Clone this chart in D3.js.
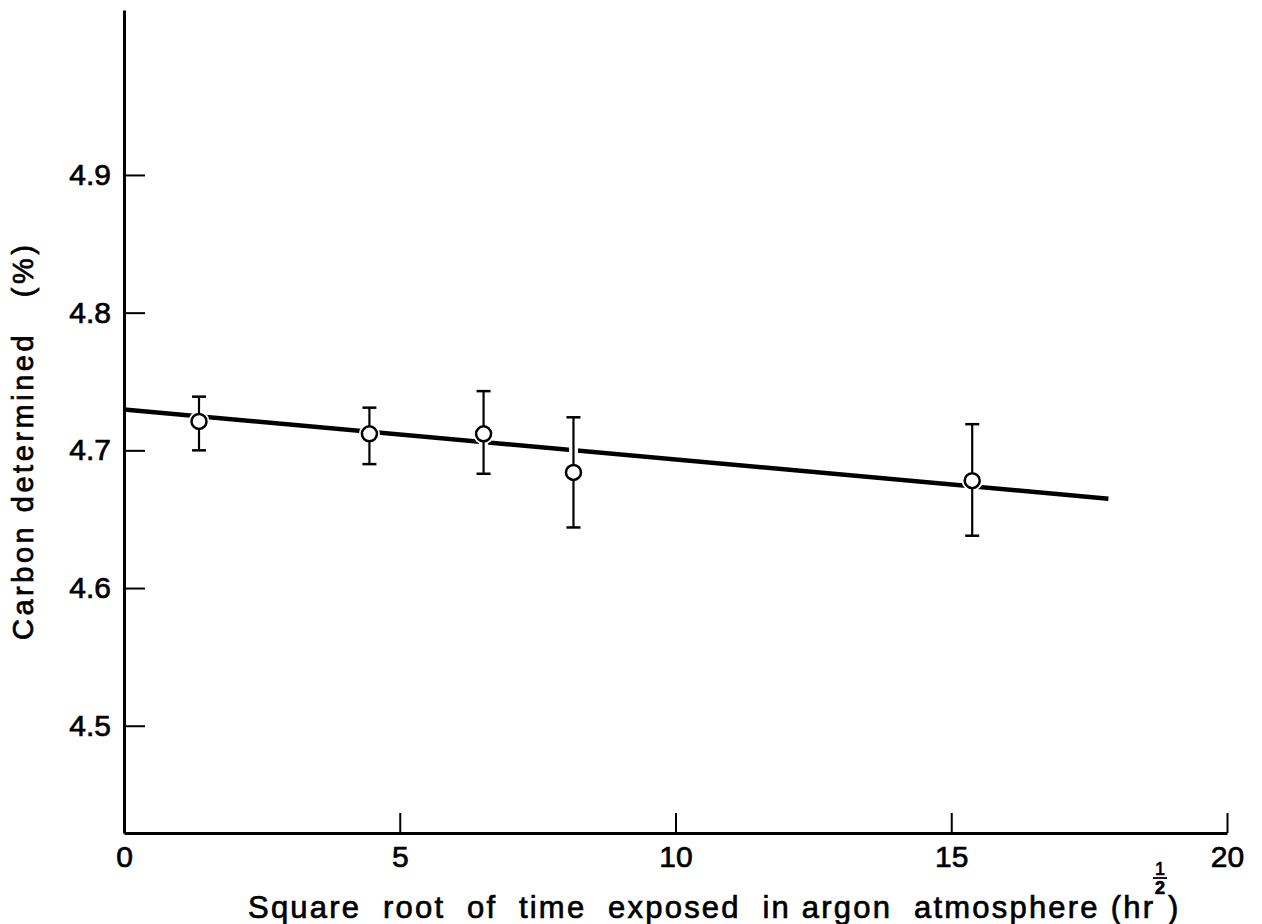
<!DOCTYPE html>
<html>
<head>
<meta charset="utf-8">
<script src="https://cdn.jsdelivr.net/npm/d3@7"></script>
<style>
    body { margin: 0; background: #fff; }
    text { font-family: 'Liberation Sans', Arial, sans-serif; fill: #000; stroke: #000; stroke-width: 0.7px; }
</style>
</head>
<body>
<div id="chartContainer"></div>
<script>
// measured points with error bars
const sqrtTime = [1.36, 4.45, 6.52, 8.15, 15.38];
const carbon = [4.721, 4.712, 4.712, 4.684, 4.678];
const carbonHigh = [4.739, 4.731, 4.743, 4.724, 4.719];
const carbonLow = [4.700, 4.690, 4.683, 4.644, 4.638];

// fitted line end points
const fitX = [0, 17.85];
const fitY = [4.7296, 4.6649];

const xTicks = [0, 5, 10, 15, 20];
const yTicks = [4.5, 4.6, 4.7, 4.8, 4.9];

const svgWidth = 1262;
const svgHeight = 924;
const margin = { top: 10, right: 35, bottom: 91, left: 124 };
const chartWidth = svgWidth - margin.left - margin.right;
const chartHeight = svgHeight - margin.top - margin.bottom;

const svg = d3.select('#chartContainer').append('svg')
    .attr('width', svgWidth).attr('height', svgHeight);

const xScale = d3.scaleLinear().domain([0, 20]).range([0, chartWidth]);
const yScale = d3.scaleLinear().domain([4.4221, 5.0198]).range([chartHeight, 0]);

const chart = svg.append('g').attr('transform', `translate(${margin.left}, ${margin.top})`);

// axes, ticks point inward
const xAxis = d3.axisBottom(xScale).tickValues(xTicks).tickSize(-20).tickSizeOuter(0).tickPadding(13)
    .tickFormat(d3.format('d'));
const gx = chart.append('g')
    .attr('transform', `translate(0, ${chartHeight})`)
    .call(xAxis);
gx.select('.domain').attr('stroke-width', 3);
gx.selectAll('.tick line').attr('stroke-width', 2).filter((d) => d === 0).remove();
gx.selectAll('.tick text').attr('font-size', 30).attr('font-family', null);

const yAxis = d3.axisLeft(yScale).tickValues(yTicks).tickSize(-21).tickSizeOuter(0).tickPadding(13)
    .tickFormat(d3.format('.1f'));
const gy = chart.append('g').call(yAxis);
gy.select('.domain').attr('stroke-width', 3);
gy.selectAll('.tick line').attr('stroke-width', 2);
gy.selectAll('.tick text').attr('font-size', 30).attr('font-family', null);

// fitted line
const line = d3.line().x((d) => xScale(d[0])).y((d) => yScale(d[1]));
chart.append('path')
    .datum(fitX.map((x, i) => [x, fitY[i]]))
    .attr('d', line)
    .attr('fill', 'none')
    .attr('stroke', '#000')
    .attr('stroke-width', 4.5);

const pts = sqrtTime.map((x, i) => ({ x, y: carbon[i], hi: carbonHigh[i], lo: carbonLow[i] }));

// white gaps where the marks cross the line
chart.selectAll('.halo')
    .data(pts).enter().append('circle')
    .attr('cx', (d) => xScale(d.x)).attr('cy', (d) => yScale(d.y))
    .attr('r', 10.5).attr('fill', '#fff');
chart.selectAll('.barHalo')
    .data(pts).enter().append('line')
    .attr('x1', (d) => xScale(d.x)).attr('x2', (d) => xScale(d.x))
    .attr('y1', (d) => yScale(d.hi)).attr('y2', (d) => yScale(d.lo))
    .attr('stroke', '#fff').attr('stroke-width', 9);

const bars = chart.selectAll('.err').data(pts).enter().append('g').attr('class', 'err');
bars.append('line')
    .attr('x1', (d) => xScale(d.x)).attr('x2', (d) => xScale(d.x))
    .attr('y1', (d) => yScale(d.hi)).attr('y2', (d) => yScale(d.lo))
    .attr('stroke', '#000').attr('stroke-width', 2.2);
['hi', 'lo'].forEach((k) => {
    bars.append('line')
        .attr('x1', (d) => xScale(d.x) - 7).attr('x2', (d) => xScale(d.x) + 7)
        .attr('y1', (d) => yScale(d[k])).attr('y2', (d) => yScale(d[k]))
        .attr('stroke', '#000').attr('stroke-width', 2.5);
});

chart.selectAll('.pt')
    .data(pts).enter().append('circle')
    .attr('cx', (d) => xScale(d.x)).attr('cy', (d) => yScale(d.y))
    .attr('r', 7.5).attr('fill', '#fff').attr('stroke', '#000').attr('stroke-width', 2.5);

// axis titles
svg.append('text')
    .attr('x', 248).attr('y', 918)
    .attr('font-size', 31)
    .attr('textLength', 905).attr('lengthAdjust', 'spacing')
    .style('white-space', 'pre')
    .text('Square  root  of  time  exposed  in argon  atmosphere (hr');
svg.append('text').attr('x', 1160).attr('y', 875).attr('font-size', 18)
    .attr('text-anchor', 'middle').text('1');
svg.append('line').attr('x1', 1153).attr('x2', 1167).attr('y1', 878).attr('y2', 878)
    .attr('stroke', '#000').attr('stroke-width', 1.8);
svg.append('text').attr('x', 1160).attr('y', 894).attr('font-size', 18)
    .attr('font-weight', 'bold').attr('text-anchor', 'middle').text('2');
svg.append('text').attr('x', 1168).attr('y', 918).attr('font-size', 31).text(')');

svg.append('text')
    .attr('transform', 'rotate(-90)')
    .attr('x', -640).attr('y', 33)
    .attr('font-size', 29)
    .attr('textLength', 395).attr('lengthAdjust', 'spacing')
    .style('white-space', 'pre')
    .text('Carbon determined   (%)');
</script>
</body>
</html>
